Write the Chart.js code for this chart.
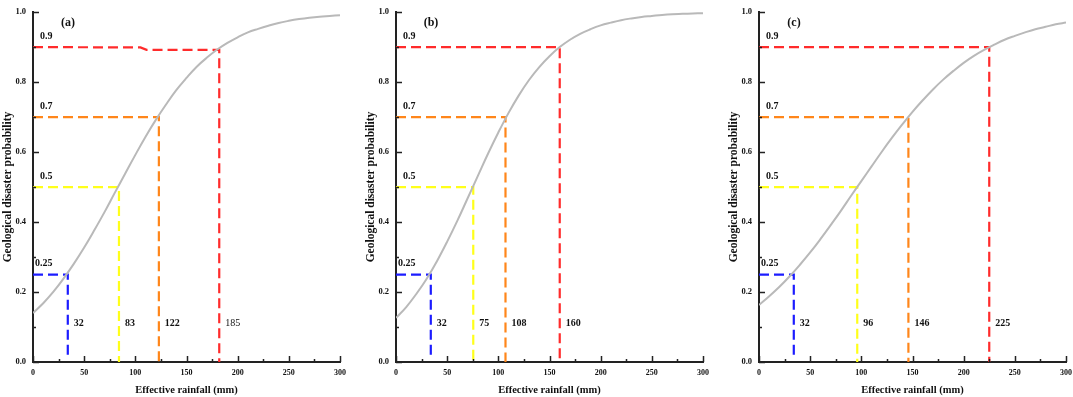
<!DOCTYPE html>
<html>
<head>
<meta charset="utf-8">
<script src="https://cdn.jsdelivr.net/npm/chart.js@4.4.0/dist/chart.umd.min.js"></script>
<style>
  html, body { margin: 0; padding: 0; background: #fff; }
  body { width: 1073px; height: 397px; position: relative; overflow: hidden; }
  .panel { position: absolute; top: 0; width: 352px; height: 397px; }
</style>
</head>
<body>
<div class="panel" style="left:0px"><canvas id="chartA"></canvas></div>
<div class="panel" style="left:363px"><canvas id="chartB"></canvas></div>
<div class="panel" style="left:726px"><canvas id="chartC"></canvas></div>
<script>
// effective rainfall (mm) and probability
const rainfall = [0, 10, 20, 30, 40, 50, 60, 70, 80, 90, 100, 110, 120, 130, 140, 150,
  160, 170, 180, 190, 200, 210, 220, 230, 240, 250, 260, 270, 280, 290, 300];
const probA = [0.140, 0.168, 0.201, 0.239, 0.281, 0.327, 0.377, 0.429, 0.484, 0.538, 0.592,
  0.644, 0.692, 0.736, 0.777, 0.812, 0.844, 0.870, 0.893, 0.912, 0.928, 0.942, 0.952,
  0.961, 0.969, 0.975, 0.980, 0.984, 0.987, 0.989, 0.991];
const probB = [0.126, 0.157, 0.195, 0.238, 0.288, 0.344, 0.404, 0.468, 0.532, 0.596, 0.656,
  0.712, 0.762, 0.806, 0.843, 0.874, 0.900, 0.921, 0.938, 0.951, 0.962, 0.970, 0.977,
  0.982, 0.986, 0.989, 0.992, 0.994, 0.995, 0.996, 0.997];
const probC = [0.163, 0.188, 0.215, 0.245, 0.278, 0.313, 0.351, 0.391, 0.432, 0.475, 0.517,
  0.559, 0.601, 0.641, 0.679, 0.715, 0.748, 0.779, 0.807, 0.832, 0.855, 0.875, 0.892,
  0.907, 0.921, 0.932, 0.942, 0.951, 0.958, 0.965, 0.970];

// probability thresholds and where the dashed guides drop
const levels = [0.25, 0.5, 0.7, 0.9];
const levelLabels = ["0.25", "0.5", "0.7", "0.9"];
const levelEndA = [0.25, 0.5, 0.7, 0.892];
const bendA = [null, null, null, 105];   // (a) red guide steps down here
const crossA = [34, 84, 123, 182];
const crossB = [34, 75.5, 107, 160];
const crossC = [34, 96, 146, 225];
const rainLabelsA = ["32", "83", "122", "185"];
const rainLabelsB = ["32", "75", "108", "160"];
const rainLabelsC = ["32", "96", "146", "225"];
const panelNames = ["(a)", "(b)", "(c)"];

const guideColors = ["#1c1cff", "#ffff1a", "#ff861a", "#ff2b2b"];
const FONT = '"Liberation Serif", "Times New Roman", serif';

function makeChart(canvasId, name, prob, cross, levelEnd, bend, rainLabels, rainBold) {
  const datasets = [{
    data: rainfall.map((r, i) => ({ x: r, y: prob[i] })),
    borderColor: "#b9b9b9",
    borderWidth: 2,
    pointRadius: 0,
    tension: 0.4,
  }];
  levels.forEach((lv, i) => {
    const pts = [{ x: 0, y: lv }];
    if (bend && bend[i] != null) {
      pts.push({ x: bend[i], y: lv - 0.001 }, { x: bend[i] + 6, y: levelEnd[i] });
    }
    pts.push({ x: cross[i], y: levelEnd[i] }, { x: cross[i], y: i === 0 ? 0.02 : 0 });
    datasets.push({
      data: pts,
      borderColor: guideColors[i],
      borderWidth: 2.2,
      borderDash: [10, 5],
      pointRadius: 0,
      tension: 0,
    });
  });

  const guideText = {
    id: "guideText",
    afterDraw(chart) {
      const { ctx, chartArea, scales: { x, y } } = chart;
      ctx.save();
      ctx.fillStyle = "#111";
      ctx.textBaseline = "middle";
      ctx.textAlign = "left";
      levels.forEach((lv, i) => {
        ctx.font = "bold 10px " + FONT;
        ctx.fillText(levelLabels[i], chartArea.left + (i === 0 ? 2 : 7), y.getPixelForValue(lv) - 11);
        ctx.font = (rainBold[i] ? "bold " : "") + "10px " + FONT;
        ctx.fillText(rainLabels[i], x.getPixelForValue(cross[i]) + 6, y.getPixelForValue(0.109));
      });
      ctx.font = "bold 12px " + FONT;
      ctx.textAlign = "center";
      ctx.fillText(name, chartArea.left + 35, chartArea.top + 11);

      // inward tick marks
      ctx.strokeStyle = "#222";
      ctx.lineWidth = 1.5;
      ctx.beginPath();
      for (let v = 0; v <= 300; v += 25) {
        const px = Math.round(x.getPixelForValue(v)) + 0.5;
        const len = v % 50 === 0 ? 6 : 3;
        ctx.moveTo(px, chartArea.bottom);
        ctx.lineTo(px, chartArea.bottom - len);
      }
      for (let k = 0; k <= 10; k++) {
        const py = Math.round(y.getPixelForValue(k / 10)) + 0.5;
        const len = k % 2 === 0 ? 6 : 3;
        ctx.moveTo(chartArea.left, py);
        ctx.lineTo(chartArea.left + len, py);
      }
      ctx.stroke();
      ctx.restore();
    },
  };

  return new Chart(document.getElementById(canvasId), {
    type: "line",
    data: { datasets },
    plugins: [guideText],
    options: {
      responsive: true,
      maintainAspectRatio: false,
      animation: false,
      layout: { padding: { top: 5, right: 12, bottom: 0, left: 0 } },
      plugins: { legend: { display: false }, tooltip: { enabled: false } },
      scales: {
        x: {
          type: "linear",
          min: 0,
          max: 300,
          afterFit: (s) => { s.height = 35; },
          grid: { display: false, drawTicks: false },
          border: { display: true, color: "#222", width: 2 },
          ticks: {
            stepSize: 50,
            padding: 6,
            color: "#111",
            maxRotation: 0,
            font: { family: FONT, size: 8, weight: "bold" },
          },
          title: {
            display: true,
            text: "Effective rainfall (mm)",
            color: "#111",
            padding: { top: 0, bottom: 0 },
            font: { family: FONT, size: 10.5, weight: "bold" },
          },
        },
        y: {
          min: 0,
          max: 1,
          afterFit: (s) => { s.width = 33; },
          grid: { display: false, drawTicks: false },
          border: { display: true, color: "#222", width: 2 },
          ticks: {
            stepSize: 0.2,
            padding: 7,
            color: "#111",
            callback: (v) => v.toFixed(1),
            font: { family: FONT, size: 8.5, weight: "bold" },
          },
          title: {
            display: true,
            text: "Geological disaster probability",
            color: "#111",
            padding: { top: 1, bottom: 0 },
            font: { family: FONT, size: 11.5, weight: "bold" },
          },
        },
      },
    },
  });
}

makeChart("chartA", panelNames[0], probA, crossA, levelEndA, bendA, rainLabelsA, [true, true, true, false]);
makeChart("chartB", panelNames[1], probB, crossB, levels, null, rainLabelsB, [true, true, true, true]);
makeChart("chartC", panelNames[2], probC, crossC, levels, null, rainLabelsC, [true, true, true, true]);
</script>
</body>
</html>
